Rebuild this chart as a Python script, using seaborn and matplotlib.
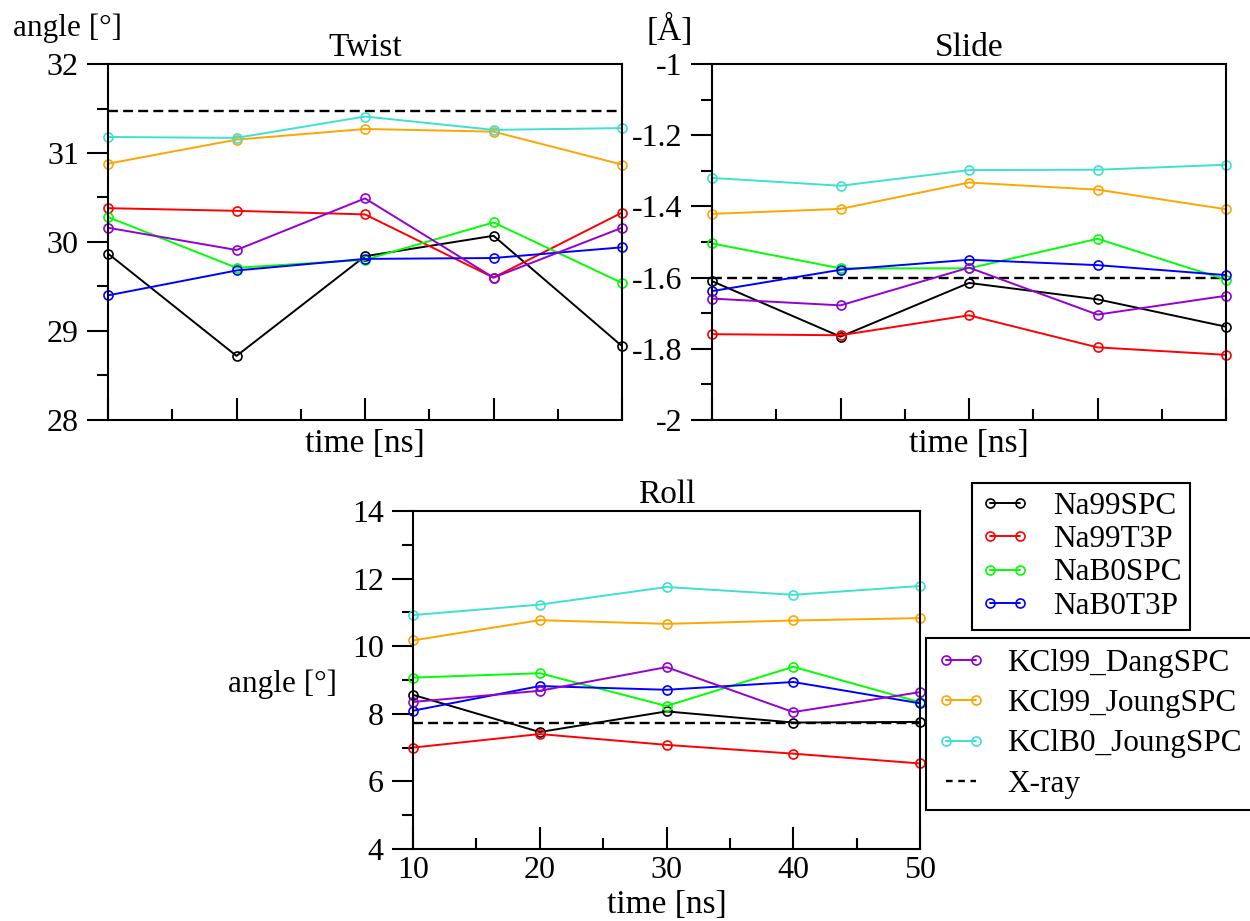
import numpy as np
import pandas as pd
import seaborn as sns
import matplotlib
matplotlib.use("Agg")
import matplotlib.pyplot as plt
from matplotlib.lines import Line2D
from matplotlib.ticker import MultipleLocator, AutoMinorLocator, FuncFormatter

# ---- data -------------------------------------------------------------
times = [10, 20, 30, 40, 50]

systems = ["Na99SPC", "Na99T3P", "NaB0SPC", "NaB0T3P",
           "KCl99_DangSPC", "KCl99_JoungSPC", "KClB0_JoungSPC"]
colors = ["#000000", "#ff0000", "#00ff00", "#0000ff",
          "#9400d3", "#ffa500", "#40e0d0"]

# one row per system, one column per time point
twist_values = [
    [29.87, 28.72, 29.84, 30.07, 28.83],
    [30.38, 30.35, 30.31, 29.60, 30.33],
    [30.28, 29.71, 29.80, 30.22, 29.54],
    [29.40, 29.68, 29.81, 29.82, 29.94],
    [30.16, 29.91, 30.49, 29.60, 30.16],
    [30.88, 31.15, 31.27, 31.24, 30.87],
    [31.18, 31.17, 31.41, 31.26, 31.28],
]
slide_values = [
    [-1.610, -1.766, -1.615, -1.661, -1.738],
    [-1.759, -1.762, -1.706, -1.796, -1.817],
    [-1.504, -1.574, -1.574, -1.491, -1.606],
    [-1.638, -1.578, -1.550, -1.565, -1.593],
    [-1.659, -1.678, -1.572, -1.704, -1.651],
    [-1.421, -1.407, -1.333, -1.353, -1.408],
    [-1.320, -1.342, -1.298, -1.297, -1.283],
]
roll_values = [
    [8.56, 7.46, 8.07, 7.74, 7.76],
    [7.00, 7.40, 7.08, 6.82, 6.53],
    [9.07, 9.20, 8.23, 9.39, 8.34],
    [8.09, 8.82, 8.71, 8.94, 8.31],
    [8.35, 8.68, 9.38, 8.05, 8.64],
    [10.17, 10.77, 10.66, 10.76, 10.83],
    [10.92, 11.23, 11.75, 11.52, 11.78],
]
xray_twist = 31.47
xray_slide = -1.60
xray_roll = 7.72

# ---- long-form table --------------------------------------------------
rows = []
for param, table in (("Twist", twist_values), ("Slide", slide_values),
                     ("Roll", roll_values)):
    for name, vals in zip(systems, table):
        for t, v in zip(times, vals):
            rows.append({"parameter": param, "system": name,
                         "time": t, "value": v})
df = pd.DataFrame(rows)

# ---- style ------------------------------------------------------------
sns.set_theme(style="ticks")
plt.rcParams["font.family"] = ["Liberation Serif", "DejaVu Serif"]
plt.rcParams["axes.unicode_minus"] = False
plt.rcParams["axes.linewidth"] = 1.5
plt.rcParams["axes.edgecolor"] = "black"
plt.rcParams["axes.labelcolor"] = "black"
plt.rcParams["axes.titlecolor"] = "black"
plt.rcParams["text.color"] = "black"
plt.rcParams["xtick.color"] = "black"
plt.rcParams["ytick.color"] = "black"
plt.rcParams["xtick.labelcolor"] = "black"
plt.rcParams["ytick.labelcolor"] = "black"

FS = 24
AFS = 22.5
TFS = 23
LFS = 22.5
LW = 1.4
MS = 6.5
DASH = (4.2, 2.2)

fig = plt.figure(figsize=(12.5, 9.21), dpi=100)
ax_twist = fig.add_axes([0.0864, 0.544, 0.4112, 0.3865])
ax_slide = fig.add_axes([0.5696, 0.544, 0.4112, 0.3865])
ax_roll = fig.add_axes([0.3304, 0.0782, 0.4056, 0.367])


def draw_panel(ax, param, xray, ylim, major, show_xlabels):
    sub = df[df["parameter"] == param]
    for name, col in zip(systems, colors):
        sns.lineplot(data=sub[sub["system"] == name], x="time", y="value",
                     ax=ax, color=col, linewidth=LW, marker="o",
                     markersize=MS, markerfacecolor="none",
                     markeredgecolor=col, markeredgewidth=1.2,
                     errorbar=None, legend=False, clip_on=False)
    ax.axhline(xray, color="black", linewidth=1.7, dashes=DASH, zorder=1)
    ax.set_xlim(10, 50)
    ax.set_ylim(*ylim)
    ax.xaxis.set_major_locator(MultipleLocator(10))
    ax.xaxis.set_minor_locator(AutoMinorLocator(2))
    ax.yaxis.set_major_locator(MultipleLocator(major))
    ax.yaxis.set_minor_locator(AutoMinorLocator(2))
    ax.yaxis.set_major_formatter(FuncFormatter(lambda v, p: f"{v:g}"))
    ax.tick_params(axis="y", which="major", direction="out", length=15,
                   width=1.5, pad=6, labelsize=TFS)
    ax.tick_params(axis="y", which="minor", direction="out", length=8,
                   width=1.5)
    ax.tick_params(axis="x", which="major", direction="in", length=16,
                   width=1.5, pad=5, labelsize=TFS,
                   labelbottom=show_xlabels)
    ax.tick_params(axis="x", which="minor", direction="in", length=8,
                   width=1.5)
    ax.set_ylabel("")
    ax.set_xlabel("time [ns]", fontsize=FS, labelpad=3)
    ax.set_title(param, fontsize=FS, pad=6)
    for sp in ax.spines.values():
        sp.set_visible(True)
        sp.set_linewidth(1.5)


draw_panel(ax_twist, "Twist", xray_twist, (28, 32), 1, False)
draw_panel(ax_slide, "Slide", xray_slide, (-2, -1), 0.2, False)
draw_panel(ax_roll, "Roll", xray_roll, (4, 14), 2, True)

# unit labels
fig.text(13 / 1250, 1 - 28 / 921, "angle [°]", fontsize=AFS,
         ha="left", va="center")
fig.text(670 / 1250, 1 - 30 / 921, "[Å]", fontsize=FS,
         ha="center", va="center")
fig.text(283 / 1250, 1 - 684 / 921, "angle [°]", fontsize=AFS,
         ha="center", va="center")


# legends
def series_handle(col):
    return Line2D([0], [0], color=col, linewidth=LW, marker="o",
                  markersize=MS, markerfacecolor="none",
                  markeredgecolor=col, markeredgewidth=1.2)


h1 = [series_handle(c) for c in colors[:4]]
leg1 = fig.legend(h1, systems[:4], loc="upper left",
                  bbox_to_anchor=(972 / 1250, 1 - 483 / 921),
                  fontsize=LFS, numpoints=2, handlelength=1.55,
                  handletextpad=0.75, labelspacing=0.14, borderpad=0.28,
                  borderaxespad=0, frameon=True, fancybox=False,
                  framealpha=1, edgecolor="black")
leg1.get_frame().set_linewidth(1.5)

h2 = [series_handle(c) for c in colors[4:]]
h2.append(Line2D([0], [0], color="black", linewidth=1.7, dashes=(2.8, 2.4)))
leg2 = fig.legend(h2, systems[4:] + ["X-ray"], loc="upper left",
                  bbox_to_anchor=(926 / 1250, 1 - 638 / 921),
                  fontsize=LFS, numpoints=2, handlelength=1.55,
                  handletextpad=0.7, labelspacing=0.36, borderpad=0.35,
                  borderaxespad=0, frameon=True, fancybox=False,
                  framealpha=1, edgecolor="black")
leg2.get_frame().set_linewidth(1.5)

fig.savefig("out.png", dpi=100, facecolor="white")
